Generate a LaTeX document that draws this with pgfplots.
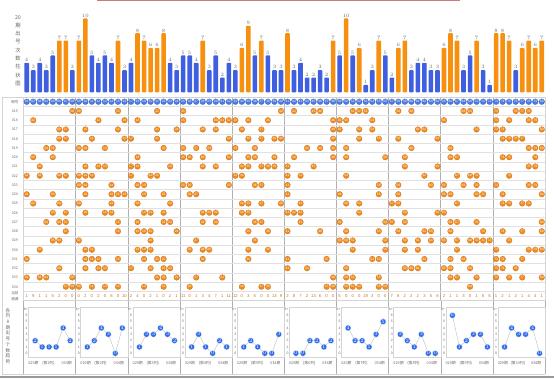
\documentclass[border=0pt]{standalone}
\usepackage{pgfplots}
\pgfplotsset{compat=1.18}
\usepackage{pgfplotstable}
\usepackage{fontspec}
\setmainfont{Liberation Sans}
\newfontfamily\cjk{Noto Sans CJK SC}
\definecolor{barblue}{HTML}{3D5FE0}
\definecolor{barorange}{HTML}{F7900F}
\definecolor{hitorange}{HTML}{F28A1C}
\definecolor{hdrblue}{HTML}{4A7BE3}
\definecolor{miniblue}{HTML}{2F6BE8}
\definecolor{gridgray}{HTML}{D4D4D4}
\definecolor{sepgray}{HTML}{B0B0B0}
\definecolor{txtgray}{HTML}{6A6A6A}
\definecolor{omitorange}{HTML}{C8741A}
\newcommand{\tf}[1]{\fontsize{#1}{#1}\selectfont}
\newcommand{\twod}[1]{\ifnum#1<10 0\fi#1}

\pgfplotstableread[row sep=\\]{
x y\\
1 -1\\ 2 -1\\ 3 -1\\ 4 -1\\ 5 -1\\ 6 -1\\ 7 -1\\ 8 -1\\ 9 -1\\ 10 -1\\
11 -1\\ 12 -1\\ 13 -1\\ 14 -1\\ 15 -1\\ 16 -1\\ 17 -1\\ 18 -1\\ 19 -1\\ 20 -1\\
21 -1\\ 22 -1\\ 23 -1\\ 24 -1\\ 25 -1\\ 26 -1\\ 27 -1\\ 28 -1\\ 29 -1\\ 30 -1\\
31 -1\\ 32 -1\\ 33 -1\\ 34 -1\\ 35 -1\\ 36 -1\\ 37 -1\\ 38 -1\\ 39 -1\\ 40 -1\\
41 -1\\ 42 -1\\ 43 -1\\ 44 -1\\ 45 -1\\ 46 -1\\ 47 -1\\ 48 -1\\ 49 -1\\ 50 -1\\
51 -1\\ 52 -1\\ 53 -1\\ 54 -1\\ 55 -1\\ 56 -1\\ 57 -1\\ 58 -1\\ 59 -1\\ 60 -1\\
61 -1\\ 62 -1\\ 63 -1\\ 64 -1\\ 65 -1\\ 66 -1\\ 67 -1\\ 68 -1\\ 69 -1\\ 70 -1\\
71 -1\\ 72 -1\\ 73 -1\\ 74 -1\\ 75 -1\\ 76 -1\\ 77 -1\\ 78 -1\\ 79 -1\\ 80 -1\\
}\hdrtab

% hits: x = number (column), y = period row (0 = 015 ... 19 = 034)
\pgfplotstableread[row sep=\\]{
x y\\
8 0\\ 9 0\\ 15 0\\ 21 0\\ 25 0\\ 40 0\\ 42 0\\ 45 0\\ 46 0\\ 51 0\\ 52 0\\ 53 0\\ 58 0\\ 60 0\\ 68 0\\ 69 0\\ 73 0\\ 76 0\\ 77 0\\ 78 0\\
2 1\\ 12 1\\ 16 1\\ 18 1\\ 25 1\\ 30 1\\ 31 1\\ 32 1\\ 33 1\\ 35 1\\ 38 1\\ 48 1\\ 49 1\\ 50 1\\ 54 1\\ 65 1\\ 73 1\\ 75 1\\ 78 1\\ 79 1\\
6 2\\ 7 2\\ 10 2\\ 15 2\\ 21 2\\ 24 2\\ 28 2\\ 30 2\\ 34 2\\ 37 2\\ 48 2\\ 49 2\\ 52 2\\ 54 2\\ 61 2\\ 62 2\\ 70 2\\ 73 2\\ 74 2\\ 80 2\\
6 3\\ 7 3\\ 11 3\\ 16 3\\ 17 3\\ 21 3\\ 32 3\\ 35 3\\ 37 3\\ 39 3\\ 40 3\\ 48 3\\ 52 3\\ 55 3\\ 58 3\\ 64 3\\ 74 3\\ 75 3\\ 76 3\\ 77 3\\
4 4\\ 5 4\\ 9 4\\ 10 4\\ 13 4\\ 22 4\\ 25 4\\ 27 4\\ 29 4\\ 33 4\\ 36 4\\ 44 4\\ 46 4\\ 48 4\\ 50 4\\ 60 4\\ 66 4\\ 78 4\\ 79 4\\ 80 4\\
2 5\\ 5 5\\ 18 5\\ 25 5\\ 26 5\\ 28 5\\ 32 5\\ 35 5\\ 36 5\\ 39 5\\ 42 5\\ 48 5\\ 50 5\\ 56 5\\ 59 5\\ 66 5\\ 67 5\\ 74 5\\ 75 5\\ 79 5\\
3 6\\ 10 6\\ 12 6\\ 13 6\\ 17 6\\ 18 6\\ 23 6\\ 28 6\\ 30 6\\ 34 6\\ 35 6\\ 37 6\\ 38 6\\ 39 6\\ 41 6\\ 45 6\\ 59 6\\ 64 6\\ 78 6\\ 79 6\\
1 7\\ 3 7\\ 6 7\\ 7 7\\ 9 7\\ 10 7\\ 11 7\\ 17 7\\ 20 7\\ 21 7\\ 33 7\\ 34 7\\ 41 7\\ 43 7\\ 50 7\\ 62 7\\ 67 7\\ 69 7\\ 70 7\\ 75 7\\
9 8\\ 10 8\\ 14 8\\ 18 8\\ 19 8\\ 25 8\\ 26 8\\ 32 8\\ 36 8\\ 37 8\\ 41 8\\ 55 8\\ 58 8\\ 63 8\\ 65 8\\ 68 8\\ 70 8\\ 73 8\\ 78 8\\ 79 8\\
1 9\\ 5 9\\ 10 9\\ 14 9\\ 15 9\\ 16 9\\ 19 9\\ 22 9\\ 26 9\\ 27 9\\ 41 9\\ 49 9\\ 55 9\\ 58 9\\ 65 9\\ 66 9\\ 70 9\\ 71 9\\ 74 9\\ 80 9\\
2 10\\ 6 10\\ 9 10\\ 14 10\\ 18 10\\ 23 10\\ 34 10\\ 35 10\\ 37 10\\ 40 10\\ 43 10\\ 50 10\\ 52 10\\ 57 10\\ 58 10\\ 67 10\\ 74 10\\ 75 10\\ 77 10\\ 78 10\\
5 11\\ 7 11\\ 10 11\\ 13 11\\ 14 11\\ 19 11\\ 20 11\\ 22 11\\ 28 11\\ 29 11\\ 30 11\\ 34 11\\ 35 11\\ 41 11\\ 42 11\\ 43 11\\ 52 11\\ 59 11\\ 64 11\\ 65 11\\
4 12\\ 6 12\\ 7 12\\ 15 12\\ 18 12\\ 22 12\\ 23 12\\ 28 12\\ 30 12\\ 36 12\\ 37 12\\ 43 12\\ 49 12\\ 56 12\\ 57 12\\ 59 12\\ 66 12\\ 67 12\\ 70 12\\ 80 12\\
7 13\\ 15 13\\ 18 13\\ 19 13\\ 20 13\\ 24 13\\ 35 13\\ 38 13\\ 41 13\\ 46 13\\ 50 13\\ 55 13\\ 58 13\\ 62 13\\ 63 13\\ 66 13\\ 71 13\\ 74 13\\ 77 13\\ 80 13\\
5 14\\ 6 14\\ 9 14\\ 20 14\\ 27 14\\ 36 14\\ 49 14\\ 50 14\\ 51 14\\ 56 14\\ 59 14\\ 61 14\\ 63 14\\ 65 14\\ 67 14\\ 69 14\\ 70 14\\ 71 14\\ 72 14\\ 75 14\\
3 15\\ 10 15\\ 11 15\\ 18 15\\ 19 15\\ 20 15\\ 26 15\\ 28 15\\ 29 15\\ 35 15\\ 38 15\\ 51 15\\ 56 15\\ 59 15\\ 61 15\\ 67 15\\ 73 15\\ 78 15\\ 79 15\\ 80 15\\
1 16\\ 10 16\\ 11 16\\ 12 16\\ 15 16\\ 19 16\\ 21 16\\ 22 16\\ 28 16\\ 35 16\\ 41 16\\ 47 16\\ 54 16\\ 55 16\\ 62 16\\ 66 16\\ 68 16\\ 73 16\\ 74 16\\ 77 16\\
6 17\\ 10 17\\ 12 17\\ 13 17\\ 17 17\\ 20 17\\ 22 17\\ 23 17\\ 41 17\\ 44 17\\ 50 17\\ 59 17\\ 60 17\\ 61 17\\ 65 17\\ 66 17\\ 69 17\\ 73 17\\ 74 17\\ 76 17\\
1 18\\ 3 18\\ 4 18\\ 8 18\\ 21 18\\ 22 18\\ 24 18\\ 27 18\\ 31 18\\ 48 18\\ 50 18\\ 51 18\\ 55 18\\ 66 18\\ 67 18\\ 70 18\\ 73 18\\ 75 18\\ 77 18\\ 80 18\\
7 19\\ 8 19\\ 9 19\\ 11 19\\ 13 19\\ 15 19\\ 19 19\\ 22 19\\ 26 19\\ 34 19\\ 37 19\\ 38 19\\ 47 19\\ 48 19\\ 50 19\\ 51 19\\ 52 19\\ 55 19\\ 56 19\\ 69 19\\
}\hitstab

% current omission (periods since last draw)
\pgfplotstableread[row sep=\\]{
x v\\
1 1\\ 2 9\\ 3 1\\ 4 1\\ 5 5\\ 6 2\\ 7 0\\ 8 0\\ 9 0\\ 10 2\\
11 0\\ 12 2\\ 13 0\\ 14 8\\ 15 0\\ 16 10\\ 17 2\\ 18 4\\ 19 0\\ 20 2\\
21 1\\ 22 0\\ 23 2\\ 24 1\\ 25 11\\ 26 0\\ 27 1\\ 28 3\\ 29 4\\ 30 7\\
31 1\\ 32 11\\ 33 12\\ 34 0\\ 35 3\\ 36 5\\ 37 0\\ 38 0\\ 39 13\\ 40 9\\
41 2\\ 42 8\\ 43 7\\ 44 2\\ 45 13\\ 46 6\\ 47 0\\ 48 0\\ 49 5\\ 50 0\\
51 0\\ 52 0\\ 53 19\\ 54 3\\ 55 0\\ 56 0\\ 57 7\\ 58 6\\ 59 2\\ 60 2\\
61 2\\ 62 3\\ 63 5\\ 64 8\\ 65 2\\ 66 1\\ 67 1\\ 68 3\\ 69 0\\ 70 1\\
71 5\\ 72 5\\ 73 1\\ 74 2\\ 75 1\\ 76 2\\ 77 1\\ 78 4\\ 79 4\\ 80 1\\
}\omittab

\pgfplotsset{
  mini/.style={anchor=south west, scale only axis, width=47.16pt, height=50pt,
    xmin=-0.957, xmax=5.78, ymin=-0.54, ymax=7.36,
    axis line style={gridgray, line width=0.4pt},
    ytick={0,...,7}, yticklabels={0,1,2,3,4,5,6,6+},
    yticklabel style={font=\tf{3.4}, text=txtgray, inner sep=0.6pt},
    xtick={-0.25,1.9,4.5},
    xticklabel style={font=\cjk\tf{3.8}, text=txtgray, yshift=-4.2pt, inner sep=0pt},
    tick style={draw=none}, major tick length=0pt, clip=false},
  minil/.style={draw=gray!55, line width=0.35pt, mark=*, mark size=3pt,
    mark options={fill=miniblue, draw=white, line width=0.3pt},
    nodes near coords, point meta=y,
    every node near coord/.append style={anchor=center, font=\tf{4}, text=white, inner sep=0pt}}
}

\begin{document}
\begin{tikzpicture}
\path[use as bounding box] (0pt,0pt) rectangle (554pt,-378pt);
\fill[white] (0pt,0pt) rectangle (554pt,-378pt);
\draw[color={rgb,255:red,205;green,120;blue,125}, line width=1.3pt] (97pt,-0.7pt) -- (460pt,-0.7pt);

% left label of bar chart
\node[text=txtgray, align=center, font=\cjk\fontsize{5.3}{8.3}\selectfont, inner sep=0pt] at (18pt,-50.5pt)
  {20\\期\\出\\号\\次\\数\\柱\\状\\图};

% bar chart
\begin{axis}[at={(23.44pt,-92.3pt)}, anchor=south west, scale only axis,
  width=521.6pt, height=82pt, xmin=0.5, xmax=80.5, ymin=0, ymax=11.1,
  hide axis, clip=false, ybar, bar width=4.6pt,
  nodes near coords,
  every node near coord/.append style={font=\tf{3.9}, text=txtgray, inner sep=1pt}]
\addplot[fill=barblue, draw=none, bar shift=0pt, rounded corners=0.8pt] coordinates {
(1,4)(2,3)(3,4)(4,3)(5,5)(8,3)(11,5)(12,4)(13,5)(14,4)(16,3)(17,4)
(23,4)(24,3)(25,5)(26,5)(27,4)(29,3)(30,5)(31,2)(32,4)(33,3)
(36,5)(38,5)(39,3)(40,3)(42,3)(43,4)(44,2)(45,2)(46,3)(47,2)(49,5)
(51,5)(53,1)(54,3)(56,5)(57,2)(60,3)(61,4)(62,4)(63,3)(64,3)(68,3)(69,5)
(71,3)(72,1)(76,3)};
\addplot[fill=barorange, draw=none, bar shift=0pt, rounded corners=0.8pt] coordinates {
(6,7)(7,7)(9,7)(10,10)(15,7)(18,8)(19,7)(20,6)(21,6)(22,8)
(28,7)(34,6)(35,9)(37,7)(41,8)(48,7)(50,10)
(52,6)(55,7)(58,6)(59,7)(65,6)(66,8)(67,7)(70,7)
(73,8)(74,8)(75,7)(77,6)(78,7)(79,6)(80,7)};
\end{axis}

% frame of the left label column
\draw[gridgray, line width=0.4pt] (2.5pt,-97.1pt) rectangle (23.44pt,-374pt);

% grid of draws
\draw[hdrblue!40, line width=0.5pt] (23.44pt,-97.1pt) rectangle (545.04pt,-106.35pt);
\begin{axis}[at={(23.44pt,-97.1pt)}, anchor=north west, scale only axis,
  width=521.6pt, height=203.5pt, xmin=0.5, xmax=80.5, ymin=-1.5, ymax=20.5,
  y dir=reverse, clip=false,
  axis line style={gridgray, line width=0.4pt},
  xtick={8.5,16.5,...,72.5}, xticklabels={}, xmajorgrids,
  x grid style={sepgray, line width=0.45pt},
  ytick={-1,0,...,20},
  yticklabels={期号,015,016,017,018,019,020,021,022,023,024,025,026,027,028,029,030,031,032,033,034,\shortstack{当前\\遗漏}},
  yticklabel style={font=\cjk\fontsize{3.6}{4.2}\selectfont, text=txtgray, inner sep=0pt, anchor=center, xshift=-8.5pt},
  minor ytick={-0.5,0.5,...,19.5}, yminorgrids,
  minor y grid style={gridgray!70, line width=0.25pt},
  tick style={draw=none}, minor tick style={draw=none},
  major tick length=0pt, minor tick length=0pt]
\addplot[only marks, mark=*, mark size=2.9pt,
  mark options={fill=hdrblue, draw=hdrblue!75!black, line width=0.2pt},
  point meta=explicit symbolic,
  nodes near coords={\twod{\pgfplotspointmeta}},
  every node near coord/.append style={anchor=center, font=\tf{3.3}, text=white, inner sep=0pt}]
  table[x=x, y=y, meta=x] {\hdrtab};
\addplot[only marks, mark=*, mark size=2.85pt,
  mark options={fill=hitorange, draw=hitorange!80!black, line width=0.2pt},
  point meta=explicit symbolic,
  nodes near coords={\twod{\pgfplotspointmeta}},
  every node near coord/.append style={anchor=center, font=\tf{3.3}, text=white, inner sep=0pt}]
  table[x=x, y=y, meta=x] {\hitstab};
\addplot[only marks, mark=none, y filter/.expression={20},
  point meta=explicit symbolic, nodes near coords,
  every node near coord/.append style={anchor=center, font=\tf{4.2}, text=omitorange, inner sep=0pt}]
  table[x=x, y=v, meta=v] {\omittab};
\end{axis}

% mini region separators
\foreach \k in {0,...,10} {
  \draw[sepgray, line width=0.45pt] ({23.44pt+52.16pt*\k},-300.6pt) -- ({23.44pt+52.16pt*\k},-374pt);
}
\draw[gridgray, line width=0.4pt] (2.5pt,-374pt) -- (545.04pt,-374pt);
\node[text=txtgray, align=center, font=\cjk\fontsize{4.6}{5.7}\selectfont, inner sep=0pt] at (8pt,-336pt)
  {各\\列\\8\\期\\出\\号\\个\\数\\趋\\势};

\begin{axis}[mini, at={(28.44pt,-356.7pt)}, xticklabels={029期,(第1列),034期}]
\addplot[minil] coordinates {(0,2)(1,1)(2,1)(3,1)(4,4)(5,2)};
\end{axis}
\begin{axis}[mini, at={(80.60pt,-356.7pt)}, xticklabels={029期,(第2列),034期}]
\addplot[minil] coordinates {(0,1)(1,2)(2,4)(3,3)(4,0)(5,4)};
\end{axis}
\begin{axis}[mini, at={(132.76pt,-356.7pt)}, xticklabels={029期,(第3列),034期}]
\addplot[minil] coordinates {(0,1)(1,3)(2,3)(3,4)(4,3)(5,2)};
\end{axis}
\begin{axis}[mini, at={(184.92pt,-356.7pt)}, xticklabels={029期,(第4列),034期}]
\addplot[minil] coordinates {(0,1)(1,3)(2,1)(3,0)(4,2)(5,1)};
\end{axis}
\begin{axis}[mini, at={(237.08pt,-356.7pt)}, xticklabels={029期,(第5列),034期}]
\addplot[minil] coordinates {(0,1)(1,2)(2,1)(3,0)(4,0)(5,3)};
\end{axis}
\begin{axis}[mini, at={(289.24pt,-356.7pt)}, xticklabels={029期,(第6列),034期}]
\addplot[minil] coordinates {(0,0)(1,0)(2,2)(3,2)(4,1)(5,2)};
\end{axis}
\begin{axis}[mini, at={(341.40pt,-356.7pt)}, xticklabels={029期,(第7列),034期}]
\addplot[minil] coordinates {(0,4)(1,2)(2,2)(3,1)(4,3)(5,5)};
\end{axis}
\begin{axis}[mini, at={(393.56pt,-356.7pt)}, xticklabels={029期,(第8列),034期}]
\addplot[minil] coordinates {(0,3)(1,2)(2,1)(3,3)(4,0)(5,0)};
\end{axis}
\begin{axis}[mini, at={(445.72pt,-356.7pt)}, xticklabels={029期,(第9列),034期}]
\addplot[minil] coordinates {(0,6)(1,1)(2,2)(3,3)(4,3)(5,1)};
\end{axis}
\begin{axis}[mini, at={(497.88pt,-356.7pt)}, xticklabels={029期,(第10列),034期}]
\addplot[minil] coordinates {(0,1)(1,4)(2,3)(3,3)(4,4)(5,0)};
\end{axis}

\draw[gray!80, line width=1.6pt] (0pt,-377pt) -- (554pt,-377pt);
\end{tikzpicture}
\end{document}
